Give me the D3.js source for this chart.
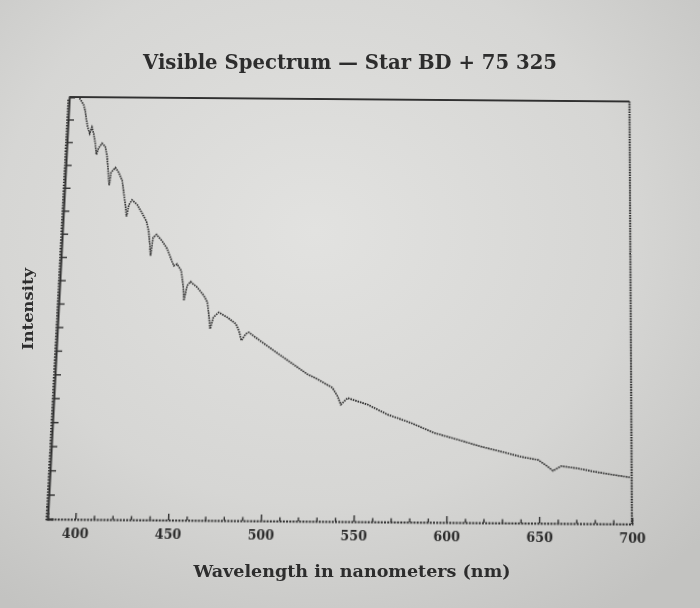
<!DOCTYPE html>
<html>
<head>
<meta charset="utf-8">
<script src="https://cdn.jsdelivr.net/npm/d3@7"></script>
<style>
  body { margin: 0; background: #d4d4d2; }
  #wrap { position: relative; width: 700px; height: 608px; overflow: hidden; }
  #wrap svg { position: absolute; left: 0; top: 0; }
  #plot { transform-origin: 0 0; }
  text { font-family: "DejaVu Serif", "Liberation Serif", serif; font-weight: bold; fill: #2d2d2d; }
</style>
</head>
<body>
<div id="wrap">
  <svg id="paper" width="700" height="608"></svg>
  <svg id="plot" width="700" height="608"></svg>
  <svg id="labels" width="700" height="608"></svg>
</div>
<script>
// spectrum (arbitrary intensity units)
const wavelength = [
  390.8, 393.3, 394.4, 395.2, 396.2, 397.5, 398.6, 399.7, 400.9, 401.8,
  402.9, 404.7, 406.6, 407.8, 408.4, 409.3, 409.8, 410.5, 412.8, 414.7,
  416.9, 418.0, 419.3, 420.2, 421.2, 422.9, 425.9, 428.8, 431.4, 432.9,
  433.8, 434.5, 435.5, 437.3, 440.6, 443.6, 446.6, 447.6, 449.4, 451.8,
  453.2, 453.9, 455.4, 457.2, 461.0, 464.8, 466.9, 468.0, 468.9, 470.5,
  473.4, 478.2, 482.9, 484.8, 486.3, 488.6, 490.3, 495.1, 504.4, 513.7,
  523.1, 528.6, 536.9, 539.8, 541.7, 545.3, 556.3, 567.3, 580.1, 592.9,
  605.7, 618.4, 629.3, 640.2, 649.3, 654.7, 657.4, 661.9, 671.0, 680.0,
  690.8, 699.0
];
const intensity = [
  17.95, 17.66, 17.38, 17.02, 16.67, 16.39, 16.67, 16.39, 15.96, 15.46,
  15.75, 15.96, 15.82, 15.40, 15.04, 14.40, 14.12, 14.69, 14.90, 14.69,
  14.34, 13.84, 13.27, 12.77, 13.27, 13.49, 13.28, 12.92, 12.57, 12.14,
  11.58, 11.08, 11.86, 12.00, 11.72, 11.38, 10.83, 10.66, 10.73, 10.45,
  9.81, 9.17, 9.81, 9.98, 9.74, 9.39, 9.11, 8.54, 7.97, 8.47,
  8.68, 8.47, 8.20, 7.91, 7.49, 7.77, 7.84, 7.57, 7.07, 6.58,
  6.09, 5.89, 5.53, 5.18, 4.83, 5.11, 4.84, 4.43, 4.09, 3.68,
  3.41, 3.13, 2.93, 2.72, 2.60, 2.32, 2.15, 2.35, 2.26, 2.13,
  2.00, 1.91
];
const xTicks = [400, 450, 500, 550, 600, 650, 700];
const xDomain = [385, 700];
const yDomain = [0, 18];
const chartTitle = "Visible Spectrum — Star BD + 75 325";
const xTitle = "Wavelength in nanometers (nm)";
const yTitle = "Intensity";

const margin = { top: 99, left: 58 };
const width = 573, height = 422;
const ink = "#303030";

// paper
const paper = d3.select("#paper");
const grad = paper.append("defs").append("radialGradient")
  .attr("id", "paperGrad").attr("cx", "45%").attr("cy", "38%").attr("r", "75%");
grad.append("stop").attr("offset", "0%").attr("stop-color", "#e2e2e0");
grad.append("stop").attr("offset", "60%").attr("stop-color", "#d6d6d4");
grad.append("stop").attr("offset", "100%").attr("stop-color", "#c3c3c1");
paper.append("rect").attr("width", 700).attr("height", 608).attr("fill", "url(#paperGrad)");

// plot, drawn flat then tilted like the photo
const svg = d3.select("#plot");
const chart = svg.append("g").attr("transform", `translate(${margin.left},${margin.top})`);

const x = d3.scaleLinear().domain(xDomain).range([0, width]);
const y = d3.scaleLinear().domain(yDomain).range([height, 0]);

const xMinor = d3.range(410, 700, 10).filter(d => d % 50 !== 0);
chart.append("g")
  .attr("transform", `translate(0,${height})`)
  .call(d3.axisBottom(x).tickValues(xMinor).tickSize(-3.5).tickFormat(""))
  .call(g => g.select(".domain").remove());
const xAxis = chart.append("g")
  .attr("transform", `translate(0,${height})`)
  .call(d3.axisBottom(x).tickValues(xTicks).tickSize(-6).tickPadding(9).tickFormat(d3.format("d")));
xAxis.select(".domain").attr("stroke-dasharray", "2,1.2").attr("stroke-width", 1.8);
xAxis.selectAll("text").attr("font-size", 12.5).attr("fill", "#2d2d2d");

chart.append("g")
  .call(d3.axisLeft(y).tickValues(d3.range(0, 18, 0.125)).tickSize(2).tickFormat(""))
  .call(g => g.select(".domain").remove());
const yAxis = chart.append("g")
  .call(d3.axisLeft(y).tickValues(d3.range(1, 18, 1)).tickSize(-6).tickFormat(""));
yAxis.select(".domain").attr("stroke-width", 2);

chart.selectAll(".tick line").attr("stroke", ink).attr("stroke-width", 1.4);
chart.selectAll(".domain").attr("stroke", ink);

chart.append("line")
  .attr("x1", 0).attr("x2", width).attr("y1", 0).attr("y2", 0)
  .attr("stroke", ink).attr("stroke-width", 2);
chart.append("line")
  .attr("x1", width).attr("x2", width).attr("y1", 0).attr("y2", height)
  .attr("stroke", ink).attr("stroke-width", 2.2).attr("stroke-dasharray", "1.6,1");

const line = d3.line()
  .x((d, i) => x(wavelength[i]))
  .y(d => y(d));
chart.append("path")
  .datum(intensity)
  .attr("d", line)
  .attr("fill", "none")
  .attr("stroke", ink)
  .attr("stroke-width", 1.7)
  .attr("stroke-dasharray", "1.6,0.9");

// homography from the flat frame to the photographed frame
function homography(src, dst) {
  const A = [], b = [];
  for (let i = 0; i < 4; i++) {
    const [sx, sy] = src[i], [X, Y] = dst[i];
    A.push([sx, sy, 1, 0, 0, 0, -sx * X, -sy * X]); b.push(X);
    A.push([0, 0, 0, sx, sy, 1, -sx * Y, -sy * Y]); b.push(Y);
  }
  for (let c = 0; c < 8; c++) {
    let p = c;
    for (let r = c + 1; r < 8; r++) if (Math.abs(A[r][c]) > Math.abs(A[p][c])) p = r;
    [A[c], A[p]] = [A[p], A[c]];
    [b[c], b[p]] = [b[p], b[c]];
    for (let r = 0; r < 8; r++) {
      if (r === c) continue;
      const f = A[r][c] / A[c][c];
      for (let k = c; k < 8; k++) A[r][k] -= f * A[c][k];
      b[r] -= f * b[c];
    }
  }
  return b.map((v, i) => v / A[i][i]);
}
const L = margin.left, T = margin.top, R = L + width, B = T + height;
const h = homography(
  [[L, T], [R, T], [R, B], [L, B]],
  [[69.3, 97], [629.5, 101.5], [632, 524], [47.5, 519]]
);
svg.style("transform",
  `matrix3d(${h[0]},${h[3]},0,${h[6]},${h[1]},${h[4]},0,${h[7]},0,0,1,0,${h[2]},${h[5]},0,1)`);

// titles
const labels = d3.select("#labels");
labels.append("text")
  .attr("x", 350).attr("y", 69)
  .attr("text-anchor", "middle")
  .attr("font-size", 20)
  .attr("textLength", 414).attr("lengthAdjust", "spacingAndGlyphs")
  .text(chartTitle);
labels.append("text")
  .attr("x", 352).attr("y", 577)
  .attr("text-anchor", "middle")
  .attr("font-size", 17)
  .attr("textLength", 317).attr("lengthAdjust", "spacingAndGlyphs")
  .text(xTitle);
labels.append("text")
  .attr("transform", "translate(33,309) rotate(-90)")
  .attr("text-anchor", "middle")
  .attr("font-size", 14)
  .attr("textLength", 82).attr("lengthAdjust", "spacingAndGlyphs")
  .text(yTitle);
</script>
</body>
</html>
